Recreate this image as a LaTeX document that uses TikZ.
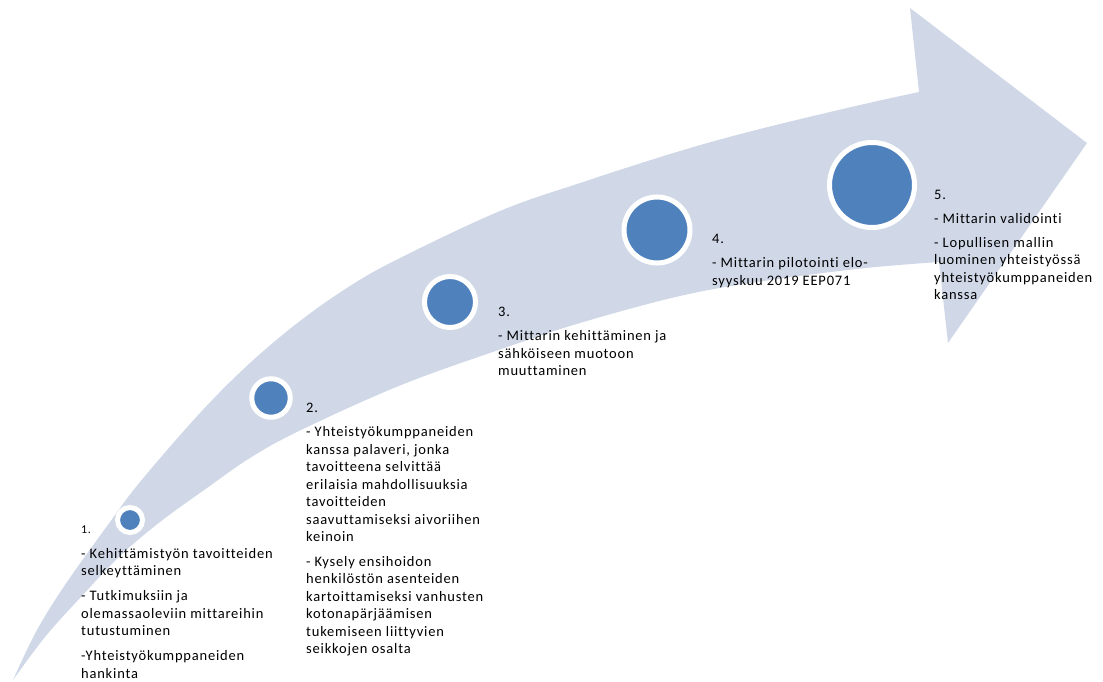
\documentclass[tikz,border=0pt]{standalone}
\usepackage{fontspec}
\setmainfont{Carlito}[LetterSpace=5.5, Ligatures=CommonOff]
\definecolor{shaft}{HTML}{D0D8E8}
\definecolor{dotblue}{HTML}{4F81BD}
\newcommand{\blk}[1]{\parbox[t]{230pt}{\raggedright #1}}
\newcommand{\gp}{\par\vspace{7pt}}
\tikzset{
  dotnode/.style={circle, fill=dotblue, draw=white, line width=5pt, inner sep=0pt},
  txt/.style={anchor=base west, inner sep=0pt, text=black,
              font=\fontsize{14.5}{17.5}\selectfont},
  arrowbody/.style={fill=shaft, draw=none}
}
\begin{document}
\begin{tikzpicture}[x=1pt, y=-1pt]
\useasboundingbox (0,0) rectangle (1103,682);
% curved arrow
\fill[arrowbody] plot[smooth, tension=0.6] coordinates {(13,680) (37,630) (67,582) (110,522) (140,482) (200,413) (250,363) (300,321) (350,286) (400,258) (500,211) (580,183) (680,151) (760,129) (860,105) (919,92)}
  -- (910,8) -- (1087,143) -- (948,343) -- (939,262)
  -- plot[smooth, tension=0.6] coordinates {(939,262) (860,268.6) (760,281.6) (680,296) (580,323) (500,349.5) (400,385.5) (300,430.5) (250,458) (207,488) (160,522) (120,556) (80,598) (45,637) (13,680)}
  -- cycle;
% circles
\node[dotnode, minimum size=25pt] (c1) at (130,520) {};
\node[dotnode, minimum size=38.5pt] (c2) at (271,398) {};
\node[dotnode, minimum size=51pt] (c3) at (450,302) {};
\node[dotnode, minimum size=66pt] (c4) at (657,230) {};
\node[dotnode, minimum size=85pt] (c5) at (872,185) {};
% texts
\node[txt] (t1) at (81,533) {\blk{{\fontsize{12}{17.5}\selectfont 1.}\par\vspace{7.5pt}
- Kehittämistyön tavoitteiden\\ selkeyttäminen\par\vspace{7.5pt}
- Tutkimuksiin ja\\ olemassaoleviin mittareihin\\ tutustuminen\par\vspace{7.5pt}
-Yhteistyökumppaneiden\\ hankinta}};
\node[txt] (t2) at (306,412) {\blk{2.\gp
- Yhteistyökumppaneiden\\ kanssa palaveri, jonka\\ tavoitteena selvittää\\ erilaisia mahdollisuuksia\\ tavoitteiden\\ saavuttamiseksi aivoriihen\\ keinoin\gp
- Kysely ensihoidon\\ henkilöstön asenteiden\\ kartoittamiseksi vanhusten\\ kotonapärjäämisen\\ tukemiseen liittyvien\\ seikkojen osalta}};
\node[txt] (t3) at (498,316) {\blk{3.\gp
- Mittarin kehittäminen ja\\ sähköiseen muotoon\\ muuttaminen}};
\node[txt] (t4) at (712,243) {\blk{4.\gp
- Mittarin pilotointi elo-\\ syyskuu 2019 EEP071}};
\node[txt] (t5) at (934,199) {\blk{5.\gp
- Mittarin validointi\par\vspace{6pt}
- Lopullisen mallin\\ luominen yhteistyössä\\ yhteistyökumppaneiden\\ kanssa}};
\end{tikzpicture}
\end{document}
